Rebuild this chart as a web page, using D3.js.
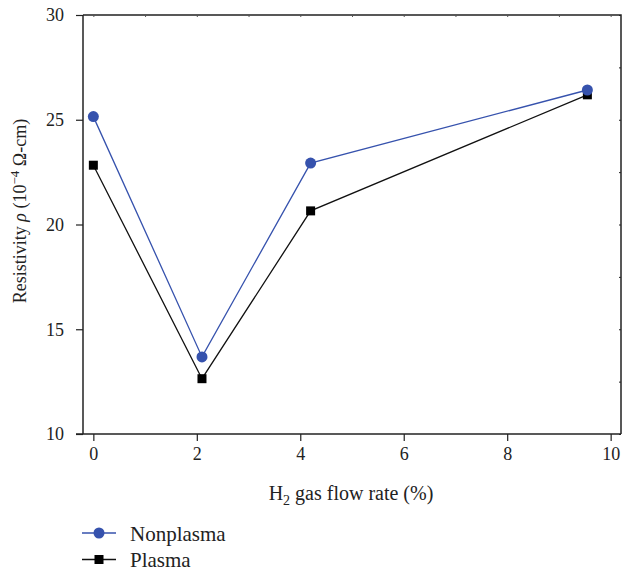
<!DOCTYPE html>
<html>
<head>
    <script src="https://d3js.org/d3.v7.min.js"></script>
    <style>
        body { margin: 0; background: #fff; }
        text { font-family: "Liberation Serif", "Times New Roman", serif; fill: #222; }
    </style>
</head>
<body>
    <div id="chart"></div>
    <script>
        // H2 gas flow rate (%)
        var flowRate = [0, 2.1, 4.2, 9.55];
        var nonplasma = [25.15, 13.68, 22.93, 26.42];
        var plasma = [22.83, 12.64, 20.65, 26.19];
        var xTicks = [0, 2, 4, 6, 8, 10];
        var yTicks = [10, 15, 20, 25, 30];

        var blue = "#3652ad";

        var svg = d3.select("#chart")
            .append("svg")
            .attr("width", 622)
            .attr("height", 571);

        var x = d3.scaleLinear().domain([-0.2, 10.2]).range([83, 621]);
        var y = d3.scaleLinear().domain([10, 30]).range([434, 15]);

        // frame (top + right)
        svg.append("path")
            .attr("d", "M" + x.range()[0] + "," + y(30) + "H" + x.range()[1] + "V" + y(10))
            .attr("fill", "none")
            .attr("stroke", "#222")
            .attr("stroke-width", 1.5);

        // top inner ticks
        svg.append("g")
            .attr("transform", "translate(0," + y(30) + ")")
            .call(d3.axisBottom(x).tickValues(d3.range(0, 11, 1)).tickSize(2).tickFormat(""))
            .call(g => g.select(".domain").remove())
            .selectAll("line").attr("stroke", "#555");

        // right inner ticks
        svg.append("g")
            .attr("transform", "translate(" + x.range()[1] + ",0)")
            .call(d3.axisLeft(y).tickValues(d3.range(10, 30.1, 2.5)).tickSize(2).tickFormat(""))
            .call(g => g.select(".domain").remove())
            .selectAll("line").attr("stroke", "#222");

        // x axis
        var gx = svg.append("g")
            .attr("transform", "translate(0," + y(10) + ")");
        gx.call(d3.axisBottom(x).tickValues(d3.range(1, 10, 2)).tickSize(4).tickFormat(""));
        gx.call(d3.axisBottom(x).tickValues(xTicks).tickSize(7).tickPadding(6).tickFormat(d3.format("d")));
        gx.select(".domain").remove();
        gx.selectAll("text").style("font-size", "18px").attr("fill", "#222");
        gx.selectAll("line").attr("stroke", "#222").attr("stroke-width", 1.2);

        // y axis
        var gy = svg.append("g")
            .attr("transform", "translate(" + x.range()[0] + ",0)");
        gy.call(d3.axisLeft(y).tickValues([12.5, 17.5, 22.5, 27.5]).tickSize(4).tickFormat(""));
        gy.call(d3.axisLeft(y).tickValues(yTicks).tickSize(7).tickPadding(12).tickFormat(d3.format("d")));
        gy.select(".domain").remove();
        gy.selectAll("text").style("font-size", "18px").attr("fill", "#222");
        gy.selectAll("line").attr("stroke", "#222").attr("stroke-width", 1.2);

        // axis lines
        svg.append("line")
            .attr("x1", x.range()[0] - 7).attr("x2", x.range()[1])
            .attr("y1", y(10)).attr("y2", y(10))
            .attr("stroke", "#222").attr("stroke-width", 1.5);
        svg.append("line")
            .attr("x1", x.range()[0]).attr("x2", x.range()[0])
            .attr("y1", y(30)).attr("y2", y(10))
            .attr("stroke", "#222").attr("stroke-width", 1.5);

        // axis titles
        var xt = svg.append("text")
            .attr("x", 351)
            .attr("y", 500)
            .attr("text-anchor", "middle")
            .style("font-size", "20px");
        xt.append("tspan").text("H");
        xt.append("tspan").text("2").attr("dy", 5).style("font-size", "14px");
        xt.append("tspan").text(" gas flow rate (%)").attr("dy", -5);

        var yt = svg.append("text")
            .attr("transform", "translate(26,211) rotate(-90)")
            .attr("text-anchor", "middle")
            .style("font-size", "18px");
        yt.append("tspan").text("Resistivity ");
        yt.append("tspan").text("ρ").style("font-style", "italic");
        yt.append("tspan").text(" (10");
        yt.append("tspan").text("−4").attr("dy", -7).style("font-size", "13px");
        yt.append("tspan").text(" Ω-cm)").attr("dy", 7);

        var line = d3.line()
            .x(function (d) { return x(d[0]); })
            .y(function (d) { return y(d[1]); });

        var nonData = flowRate.map(function (f, i) { return [f, nonplasma[i]]; });
        var plData = flowRate.map(function (f, i) { return [f, plasma[i]]; });

        svg.append("path")
            .datum(plData)
            .attr("d", line)
            .attr("fill", "none")
            .attr("stroke", "#111")
            .attr("stroke-width", 1.3);

        svg.append("path")
            .datum(nonData)
            .attr("d", line)
            .attr("fill", "none")
            .attr("stroke", blue)
            .attr("stroke-width", 1.3);

        svg.selectAll(".sq")
            .data(plData)
            .enter()
            .append("rect")
            .attr("x", function (d) { return x(d[0]) - 4.5; })
            .attr("y", function (d) { return y(d[1]) - 4.5; })
            .attr("width", 9)
            .attr("height", 9)
            .attr("fill", "#000");

        svg.selectAll(".dot")
            .data(nonData)
            .enter()
            .append("circle")
            .attr("cx", function (d) { return x(d[0]); })
            .attr("cy", function (d) { return y(d[1]); })
            .attr("r", 5.5)
            .attr("fill", blue);

        // legend
        var legend = [
            { name: "Nonplasma", color: blue, shape: "circle" },
            { name: "Plasma", color: "#111", shape: "square" }
        ];
        var lg = svg.selectAll(".lg")
            .data(legend)
            .enter()
            .append("g")
            .attr("transform", function (d, i) { return "translate(0," + (533 + i * 26.5) + ")"; });
        lg.append("line")
            .attr("x1", 82).attr("x2", 116)
            .attr("stroke", function (d) { return d.color; })
            .attr("stroke-width", 1.3);
        lg.filter(function (d) { return d.shape === "circle"; })
            .append("circle").attr("cx", 99).attr("r", 5.5).attr("fill", blue);
        lg.filter(function (d) { return d.shape === "square"; })
            .append("rect").attr("x", 94.5).attr("y", -4.5).attr("width", 9).attr("height", 9).attr("fill", "#000");
        lg.append("text")
            .attr("x", 130)
            .attr("y", 7.5)
            .style("font-size", "21px")
            .text(function (d) { return d.name; });
    </script>
</body>
</html>
